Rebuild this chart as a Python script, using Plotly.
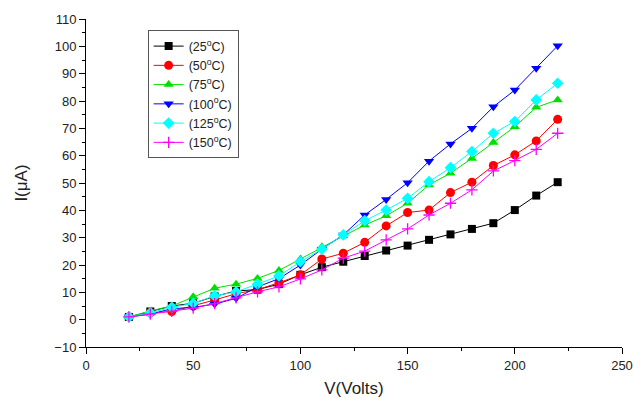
import plotly.graph_objects as go

volts = [20, 30, 40, 50, 60, 70, 80, 90, 100, 110, 120, 130, 140, 150, 160, 170, 180, 190, 200, 210, 220]
i_25 = [1, 3, 5, 6, 8.5, 10.5, 11, 13, 16.4, 19.2, 21.2, 23.3, 25.3, 27.1, 29.2, 31.2, 33.2, 35.3, 40.1, 45.4, 50.3]
i_50 = [1, 2.5, 3, 5, 7.2, 9.5, 11, 13.5, 16.4, 22.2, 24.3, 28.3, 34.3, 39.2, 40.1, 46.5, 50.3, 56.4, 60.3, 65.4, 73.3]
i_75 = [1, 3.2, 5, 8.4, 11.5, 13, 15.1, 18, 22.2, 26.7, 30.6, 34.6, 38, 42.6, 49.3, 53.6, 59, 64.8, 70.6, 77.7, 80.4]
i_100 = [1, 2, 4, 4.5, 5.7, 7.8, 12, 15, 20, 25.8, 31, 38.3, 44, 50.1, 58, 64.3, 70, 77.9, 84, 92, 100.2]
i_125 = [1, 2.5, 4.5, 6, 8.7, 10.2, 13, 16, 21.2, 25.8, 31, 36.2, 40.1, 44.4, 50.5, 55.6, 61.5, 68.2, 72.5, 80.4, 86.5]
i_150 = [1, 2, 3, 4.2, 5.9, 8, 10.2, 12, 14.9, 18.2, 22.5, 25.1, 29.2, 33.2, 38.3, 42.6, 47.5, 54.4, 58.2, 62.3, 68.2]

labels = ["(25<sup>o</sup>C)", "(50<sup>o</sup>C)", "(75<sup>o</sup>C)",
          "(100<sup>o</sup>C)", "(125<sup>o</sup>C)", "(150<sup>o</sup>C)"]
series = [i_25, i_50, i_75, i_100, i_125, i_150]
colors = ["#000000", "#ff0000", "#00e000", "#0000ff", "#00ffff", "#ff00ff"]
symbols = ["square", "circle", "triangle-up", "triangle-down", "diamond", "cross-thin"]
sizes = [8, 9, 9, 9, 9, 8]

fig = go.Figure()
for lab, ys, c, s, sz in zip(labels, series, colors, symbols, sizes):
    marker = dict(symbol=s, size=sz, color=c)
    if s == "cross-thin":
        marker["line"] = dict(color=c, width=1.3)
    fig.add_trace(go.Scatter(x=volts, y=ys, name=lab, mode="lines+markers",
                             line=dict(color=c, width=1), marker=marker))

fnt = "Liberation Sans, Arial"
axis_common = dict(showline=True, linecolor="black", linewidth=1, ticks="outside",
                   ticklen=6, tickcolor="black", showgrid=False, zeroline=False,
                   automargin=False,
                   tickfont=dict(family=fnt, size=13, color="#222"))
fig.update_xaxes(range=[0, 250], dtick=50,
                 minor=dict(dtick=25, ticks="outside", ticklen=3, tickcolor="black"),
                 title=dict(text="V(Volts)", font=dict(family=fnt, size=17, color="#222"),
                            standoff=10),
                 **axis_common)
fig.update_yaxes(range=[-10, 110], dtick=10,
                 minor=dict(dtick=5, ticks="outside", ticklen=3, tickcolor="black"),
                 title=dict(text="I(μA)", font=dict(family=fnt, size=17, color="#222"),
                            standoff=22),
                 **axis_common)

fig.update_layout(
    width=634, height=401,
    margin=dict(l=86, r=12, t=19, b=54),
    paper_bgcolor="white", plot_bgcolor="white",
    showlegend=True,
    legend=dict(x=0.115, y=0.965, xanchor="left", yanchor="top",
                bordercolor="#555", borderwidth=1, bgcolor="white",
                font=dict(family=fnt, size=12.5, color="#222"),
                tracegroupgap=0, itemwidth=30),
)
fig.write_html("out.html")
